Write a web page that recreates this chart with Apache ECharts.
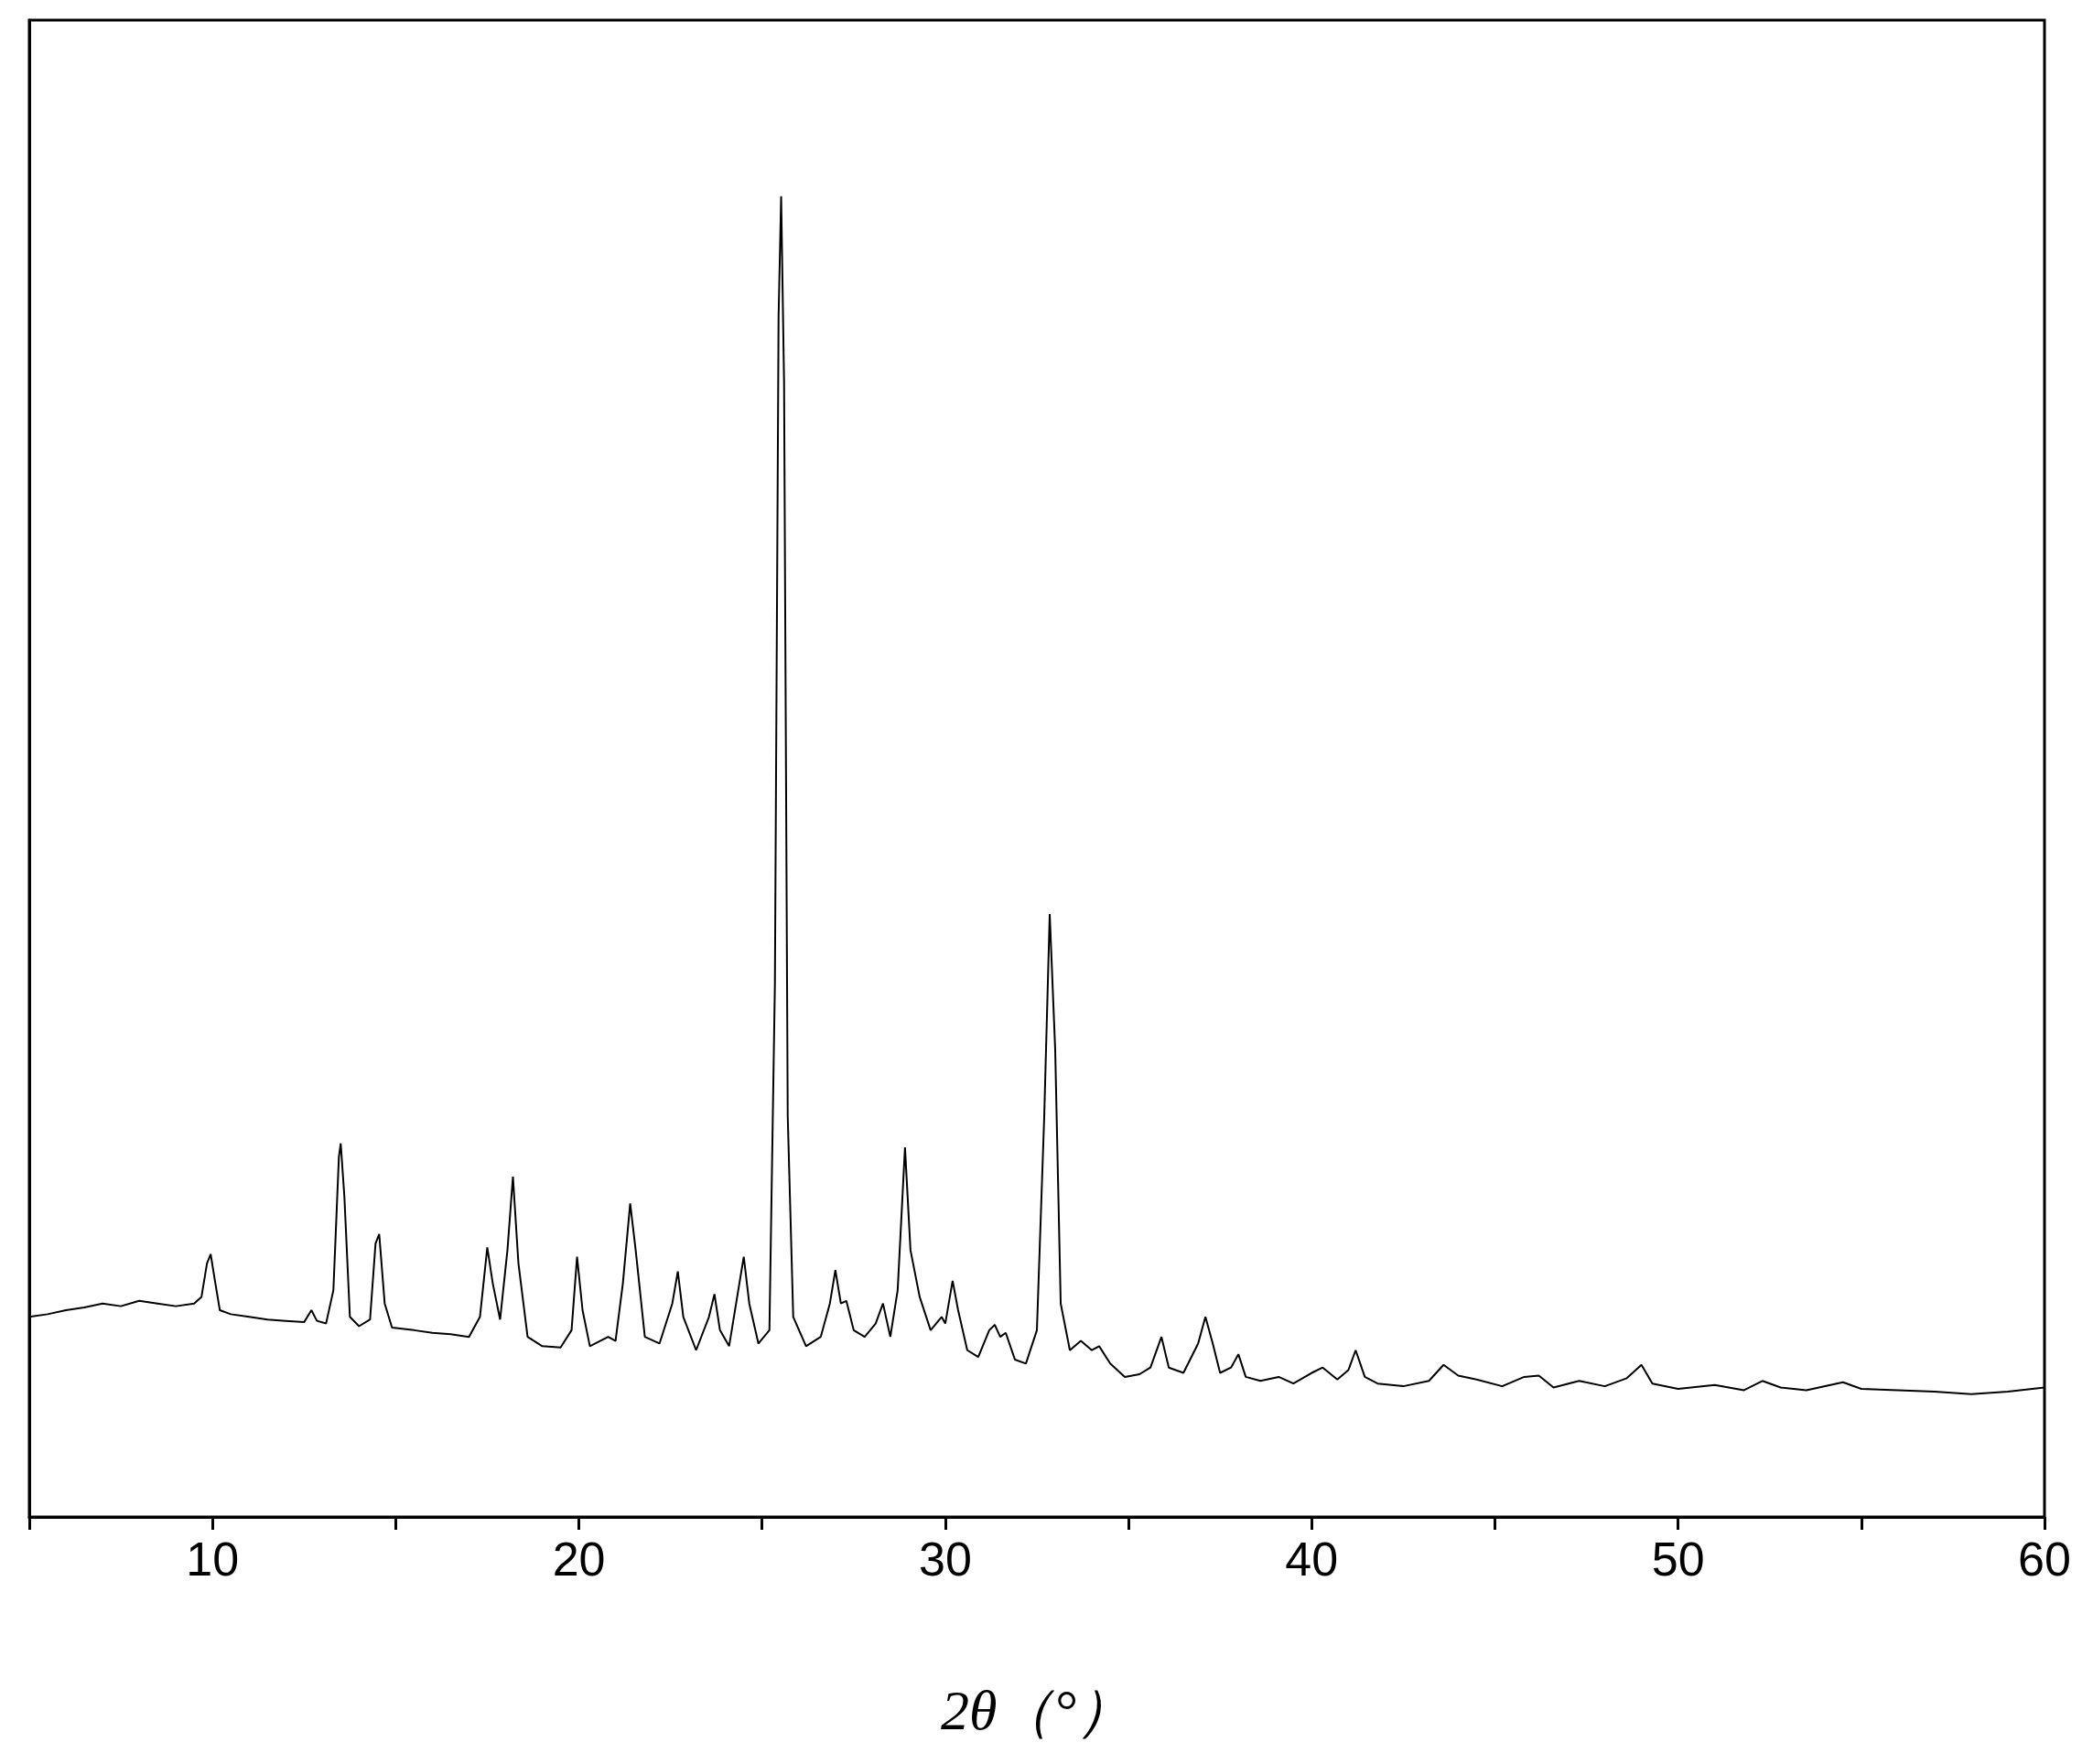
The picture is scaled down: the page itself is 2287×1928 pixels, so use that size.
<!DOCTYPE html>
<html lang="en" style="height: 100%">
<head>
    <meta charset="UTF-8">
    <title>XRD</title>
    <script src="https://cdn.jsdelivr.net/npm/echarts@6/dist/echarts.min.js"></script>
</head>
<body style="height: 100%; margin: 0; background: #fff">
<div id="main" style="width: 2287px; height: 1928px"></div>
<script>
    var twoTheta = [5,5.5,6,6.5,7,7.5,8,8.5,9,9.5,9.7,9.85,9.95,10.05,10.2,10.5,11,11.5,12,12.5,12.7,12.85,13.1,13.3,13.45,13.5,13.6,13.75,14,14.3,14.45,14.55,14.7,14.9,15.5,16,16.5,17,17.3,17.5,17.65,17.85,18.05,18.2,18.35,18.6,19,19.5,19.8,19.95,20.1,20.3,20.8,21.0,21.2,21.4,21.55,21.8,22.2,22.55,22.7,22.85,23.2,23.55,23.7,23.85,24.1,24.35,24.5,24.65,24.9,25.2,25.35,25.45,25.52,25.6,25.7,25.85,26.2,26.6,26.85,27.0,27.15,27.3,27.5,27.8,28.1,28.3,28.5,28.7,28.9,29.05,29.3,29.6,29.9,30.0,30.2,30.35,30.6,30.9,31.2,31.35,31.5,31.65,31.9,32.2,32.5,32.7,32.85,33.0,33.15,33.4,33.7,34.0,34.2,34.5,34.9,35.3,35.6,35.9,36.1,36.5,36.9,37.1,37.3,37.5,37.8,38.0,38.2,38.6,39.1,39.5,40.0,40.3,40.7,41.0,41.2,41.45,41.8,42.5,43.2,43.6,44.0,44.5,45.2,45.8,46.2,46.6,47.3,48.0,48.6,49.0,49.3,50,51,51.8,52.3,52.8,53.5,54.5,55,56,57,58,59,60];
    var intensity = [150,152,155,157,160,158,162,160,158,160,165,190,197,180,155,152,150,148,147,146,155,147,145,170,270,280,240,150,143,148,205,212,160,142,140,138,137,135,150,202,175,148,200,255,190,135,128,127,140,195,155,128,135,132,175,235,200,135,130,160,184,150,125,150,167,140,128,170,195,160,130,140,400,900,990,850,300,150,128,135,160,185,160,162,140,135,145,160,135,170,277,200,165,140,150,145,177,155,125,120,140,144,135,138,118,115,140,300,452,350,160,125,132,125,128,115,105,107,112,135,112,108,130,150,130,108,112,122,105,102,105,100,108,112,103,110,125,105,100,98,102,114,106,103,98,105,106,97,102,98,104,114,100,96,99,95,102,97,95,101,96,95,94,92,94,97];
    var xTicks = [10, 20, 30, 40, 50, 60];

    var points = twoTheta.map(function (x, i) { return [x, intensity[i]]; });

    var option = {
        backgroundColor: '#fff',
        animation: false,
        grid: {left: 32, right: 53, top: 22, bottom: 270, show: true, borderColor: '#000', borderWidth: 3},
        xAxis: {
            type: 'value', min: 5, max: 60, interval: 5,
            axisLine: {show: true, lineStyle: {color: '#000', width: 3}},
            axisTick: {show: true, inside: false, length: 14, lineStyle: {color: '#000', width: 3}},
            axisLabel: {
                margin: 24, fontSize: 52, color: '#000', fontFamily: 'Liberation Sans',
                formatter: function (v) { return xTicks.indexOf(v) >= 0 ? v : ''; }
            },
            splitLine: {show: false},
            name: '2θ（°）', nameLocation: 'middle', nameGap: 185,
            nameTextStyle: {fontSize: 62, fontFamily: 'Liberation Serif', fontStyle: 'italic', color: '#000'}
        },
        yAxis: {
            type: 'value', min: 0, max: 1122,
            axisLine: {show: true, lineStyle: {color: '#000', width: 3}},
            axisTick: {show: false}, axisLabel: {show: false}, splitLine: {show: false}
        },
        series: [{
            type: 'line', data: points, showSymbol: false,
            lineStyle: {color: '#000', width: 2}
        }]
    };
    var myChart = echarts.init(document.getElementById('main'));
    myChart.setOption(option);
</script>
</body>
</html>
